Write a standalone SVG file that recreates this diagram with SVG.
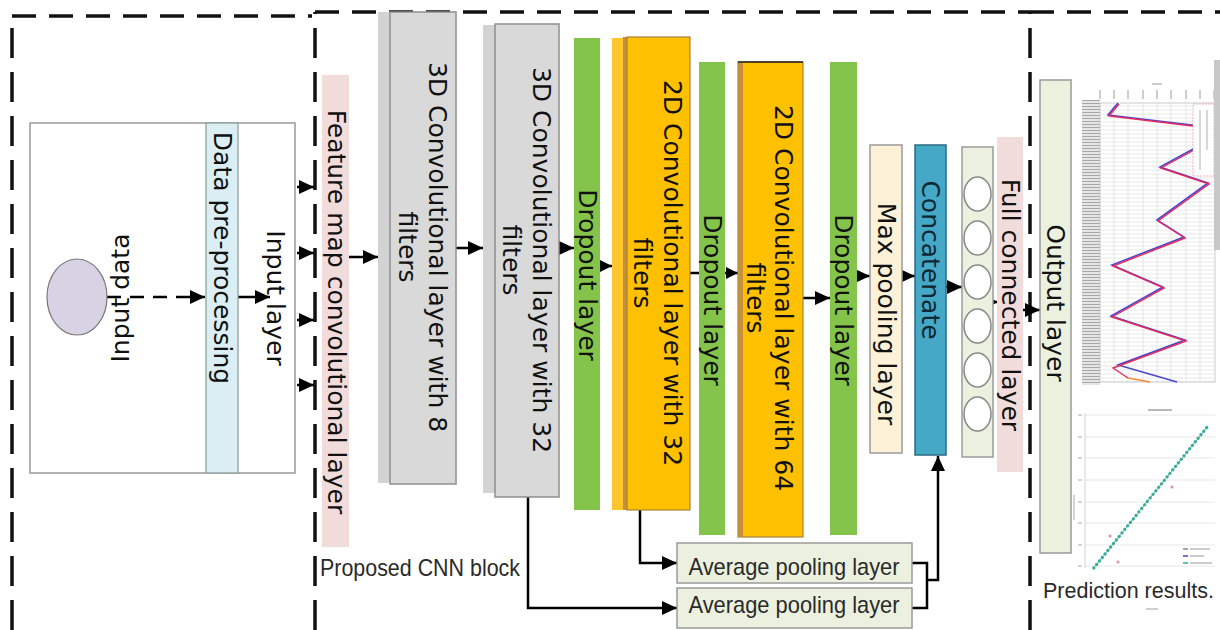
<svg xmlns="http://www.w3.org/2000/svg" width="1220" height="630" viewBox="0 0 1220 630">
<style>
.frame{fill:none;stroke:#111;stroke-width:3.5}
.fh{stroke-dasharray:24 13}
.fv{stroke-dasharray:30 14}
.con{fill:none;stroke:#000;stroke-width:2.5}
.lbl{font-family:"DejaVu Sans",sans-serif;font-size:25px;fill:#111;text-anchor:middle;dominant-baseline:central}
.cal{font-family:"Liberation Sans",sans-serif;fill:#2a2a2a}
.gray-sh{fill:#d3d3d3}
.gray{fill:#d9d9d9;stroke:#8f8f8f;stroke-width:1.5}
.drop{fill:#84c44a}
.org{fill:#ffc000;stroke:#a8803a;stroke-width:1.2}
.org-sh{fill:#fec52e}
.tan{fill:#c4913a}
.pink{fill:#f2dcdb}
.lg{fill:#ebf1de;stroke:#9a9a9a;stroke-width:1.5}
.neuron{fill:#fff;stroke:#8a8a8a;stroke-width:1.5}
.grid{stroke:#dcdcdc;stroke-width:0.7}
</style>
<defs>
<marker id="ah" markerUnits="userSpaceOnUse" markerWidth="15" markerHeight="14" refX="15" refY="7" orient="auto">
<path d="M0,0 L15,7 L0,14 z" fill="#000"/>
</marker>
<marker id="ahs" markerUnits="userSpaceOnUse" markerWidth="12" markerHeight="12" refX="12" refY="6" orient="auto">
<path d="M0,0 L12,6 L0,12 z" fill="#000"/>
</marker>
<pattern id="hlines" width="6" height="4" patternUnits="userSpaceOnUse">
<rect width="6" height="4" fill="#fff"/>
<line x1="0" y1="2" x2="6" y2="2" stroke="#e2e2e2" stroke-width="0.8"/>
</pattern>
<pattern id="ticks" width="6" height="3" patternUnits="userSpaceOnUse">
<rect width="6" height="3" fill="#e6e6e6"/>
<line x1="0" y1="1.5" x2="6" y2="1.5" stroke="#a0a0a0" stroke-width="0.9"/>
</pattern>
</defs>
<rect width="1220" height="630" fill="#fff"/>

<g id="frames">
<path class="frame fh" d="M12,16 H312"/>
<path class="frame fv" d="M12,630 V16"/>
<path class="frame fh" d="M315,12 H1030"/>
<path class="frame fv" d="M315,630 V12"/>
<path class="frame fh" d="M1030,12 H1220"/>
<path class="frame fv" d="M1030,630 V12"/>
</g>

<g id="input-box">
<rect x="30" y="123" width="265" height="350" fill="#fff" stroke="#9a9a9a" stroke-width="1.5"/>
</g>

<g id="connectors">
<path class="con" d="M107,297 H205" stroke-dasharray="14 9" marker-end="url(#ah)"/>
<path class="con" d="M238,297 H270" marker-end="url(#ah)"/>
<path class="con" d="M297,187 H314" marker-end="url(#ah)"/>
<path class="con" d="M297,253 H314" marker-end="url(#ah)"/>
<path class="con" d="M297,320 H314" marker-end="url(#ah)"/>
<path class="con" d="M297,385 H314" marker-end="url(#ah)"/>
<path class="con" d="M349,257 H378" marker-end="url(#ah)"/>
<path class="con" d="M456,248 H483" marker-end="url(#ah)"/>
<path class="con" d="M559,248 H574" marker-end="url(#ah)"/>
<path class="con" d="M600,266 H612" marker-end="url(#ahs)"/>
<path class="con" d="M690,273 H738" marker-end="url(#ahs)"/>
<path class="con" d="M803,298 H830" marker-end="url(#ah)"/>
<path class="con" d="M855,276 H870" marker-end="url(#ah)"/>
<path class="con" d="M902,276 H915" marker-end="url(#ah)"/>
<path class="con" d="M946,287 H962" marker-end="url(#ah)"/>
<path class="con" d="M993,302 H998" marker-end="url(#ahs)"/>
<path class="con" d="M1022,310 H1040" marker-end="url(#ah)"/>
<path class="con" d="M640,510 V563 H677" marker-end="url(#ah)"/>
<path class="con" d="M528,497 V608 H677" marker-end="url(#ah)"/>
<path class="con" d="M912,563 H927 V608 H912"/>
<path class="con" d="M927,580 H938 V456" marker-end="url(#ah)"/>
</g>

<g id="input-data">
<ellipse cx="77" cy="297" rx="30" ry="38" fill="#d9d2e5" stroke="#777" stroke-width="1.2"/>
<text class="lbl" transform="translate(120,298) rotate(-90)">Input data</text>
</g>

<g id="data-preprocessing">
<rect x="206" y="123" width="32" height="350" fill="#daeef3" stroke="#8a9a9a" stroke-width="1.2"/>
<text class="lbl" transform="translate(222,258) rotate(90)">Data pre-processing</text>
</g>

<g id="input-layer">
<text class="lbl" transform="translate(275,298) rotate(90)">Input layer</text>
</g>

<g id="feature-map">
<rect x="322" y="75" width="27" height="472" class="pink"/>
<text class="lbl" transform="translate(336,312) rotate(90)">Feature map convolutional layer</text>
</g>

<g id="conv3d-8">
<rect x="378" y="12" width="78" height="471" class="gray-sh"/>
<rect x="390" y="12" width="66" height="472" class="gray"/>
<g transform="translate(422,247) rotate(90)">
<text class="lbl" y="-15">3D Convolutional layer with 8</text>
<text class="lbl" y="15">filters</text>
</g>
</g>

<g id="conv3d-32">
<rect x="483" y="25" width="76" height="468" class="gray-sh"/>
<rect x="495" y="24" width="64" height="473" class="gray"/>
<g transform="translate(526,260) rotate(90)">
<text class="lbl" y="-15">3D Convolutional layer with 32</text>
<text class="lbl" y="15">filters</text>
</g>
</g>

<g id="dropout-1">
<rect x="574" y="38" width="26" height="472" class="drop"/>
<text class="lbl" transform="translate(587,275) rotate(90)">Dropout layer</text>
</g>

<g id="conv2d-32">
<rect x="612" y="38" width="78" height="472" class="org-sh"/>
<rect x="623" y="37" width="5" height="473" class="tan"/>
<rect x="627" y="37" width="63" height="473" class="org"/>
<g transform="translate(657,273) rotate(90)">
<text class="lbl" y="-15">2D Convolutional layer with 32</text>
<text class="lbl" y="15">filters</text>
</g>
</g>

<g id="dropout-2">
<rect x="699" y="62" width="26" height="473" class="drop"/>
<text class="lbl" transform="translate(712,300) rotate(90)">Dropout layer</text>
</g>

<g id="conv2d-64">
<rect x="738" y="62" width="65" height="475" class="org"/>
<rect x="738" y="63" width="5" height="474" class="tan"/>
<line x1="738" y1="62" x2="803" y2="62" stroke="#222" stroke-width="1.5"/>
<g transform="translate(769,298) rotate(90)">
<text class="lbl" y="-14">2D Convolutional layer with 64</text>
<text class="lbl" y="14">filters</text>
</g>
</g>

<g id="dropout-3">
<rect x="830" y="62" width="27" height="473" class="drop"/>
<text class="lbl" transform="translate(843,300) rotate(90)">Dropout layer</text>
</g>

<g id="max-pooling">
<rect x="870" y="145" width="32" height="308" fill="#fdf1d8" stroke="#9a9a9a" stroke-width="1.5"/>
<text class="lbl" transform="translate(886,314) rotate(90)">Max pooling layer</text>
</g>

<g id="concatenate">
<rect x="915" y="145" width="31" height="310" fill="#45a8c6" stroke="#2b6c82" stroke-width="1.5"/>
<text class="lbl" transform="translate(930,260) rotate(90)" style="fill:#0e2733">Concatenate</text>
</g>

<g id="dense-neurons">
<rect x="962" y="147" width="31" height="310" class="lg"/>
<ellipse cx="977.5" cy="194" rx="13.5" ry="17" class="neuron"/>
<ellipse cx="977.5" cy="238" rx="13.5" ry="17" class="neuron"/>
<ellipse cx="977.5" cy="282" rx="13.5" ry="17" class="neuron"/>
<ellipse cx="977.5" cy="326" rx="13.5" ry="17" class="neuron"/>
<ellipse cx="977.5" cy="370" rx="13.5" ry="17" class="neuron"/>
<ellipse cx="977.5" cy="414" rx="13.5" ry="17" class="neuron"/>
</g>

<g id="full-connected">
<rect x="997" y="137" width="26" height="335" class="pink"/>
<text class="lbl" transform="translate(1010,305) rotate(90)">Full connected layer</text>
</g>

<g id="output-layer">
<rect x="1040" y="80" width="31" height="473" class="lg"/>
<text class="lbl" transform="translate(1055,303) rotate(90)">Output layer</text>
</g>

<g id="avg-pool-1">
<rect x="677" y="543" width="235" height="40" class="lg"/>
<text class="cal" x="794" y="575" font-size="24" text-anchor="middle" textLength="211" lengthAdjust="spacingAndGlyphs">Average pooling layer</text>
</g>

<g id="avg-pool-2">
<rect x="677" y="588" width="235" height="40" class="lg"/>
<text class="cal" x="794" y="613" font-size="24" text-anchor="middle" textLength="211" lengthAdjust="spacingAndGlyphs">Average pooling layer</text>
</g>

<g id="cnn-block-label">
<text class="cal" x="320" y="576" font-size="24" textLength="200" lengthAdjust="spacingAndGlyphs">Proposed CNN block</text>
</g>

<g id="prediction-results">
<rect x="1082" y="100" width="18" height="285" fill="url(#ticks)"/>
<rect x="1100" y="103" width="115" height="279" fill="url(#hlines)" stroke="#bdbdbd" stroke-width="0.8"/>
<g class="grid">
<line x1="1114" y1="103" x2="1114" y2="382"/><line x1="1128" y1="103" x2="1128" y2="382"/>
<line x1="1143" y1="103" x2="1143" y2="382"/><line x1="1157" y1="103" x2="1157" y2="382"/>
<line x1="1171" y1="103" x2="1171" y2="382"/><line x1="1186" y1="103" x2="1186" y2="382"/>
<line x1="1200" y1="103" x2="1200" y2="382"/>
</g>
<g stroke="#9a9a9a" stroke-width="1">
<line x1="1100" y1="90" x2="1100" y2="99"/><line x1="1114" y1="90" x2="1114" y2="99"/>
<line x1="1128" y1="90" x2="1128" y2="99"/><line x1="1143" y1="90" x2="1143" y2="99"/>
<line x1="1157" y1="90" x2="1157" y2="99"/><line x1="1171" y1="90" x2="1171" y2="99"/>
<line x1="1186" y1="90" x2="1186" y2="99"/><line x1="1200" y1="90" x2="1200" y2="99"/>
<line x1="1214" y1="90" x2="1214" y2="99"/>
<line x1="1152" y1="84" x2="1162" y2="84"/>
</g>
<polyline fill="none" stroke="#4646cf" stroke-width="1.6" points="1118,103 1108,115 1200,126 1205,140 1195,148 1160,167 1208,183 1157,220 1184,237 1112,265 1163,287 1111,316 1185,340 1118,365 1177,382"/>
<polyline fill="none" stroke="#e8285c" stroke-width="1.4" points="1119,104 1109,116 1201,127 1206,141 1196,149 1161,168 1209,184 1158,221 1185,238 1113,266 1164,288 1112,317 1186,341 1113,368 1128,378"/>
<polyline fill="none" stroke="#f08a30" stroke-width="1.4" points="1128,378 1150,382"/>
<rect x="1193" y="104" width="21" height="72" fill="#fff" stroke="#e7a0c0" stroke-width="0.8" stroke-dasharray="2 1"/>
<g stroke="#b0b0b0" stroke-width="1"><line x1="1200" y1="110" x2="1200" y2="170"/><line x1="1207" y1="110" x2="1207" y2="150"/></g>
<rect x="1214" y="60" width="6" height="190" fill="#c8c8c8"/>
<rect x="1080" y="402" width="140" height="168" fill="#fff"/>
<line x1="1148" y1="410" x2="1172" y2="410" stroke="#a0a0a0" stroke-width="1.5"/>
<g class="grid">
<line x1="1085" y1="415" x2="1215" y2="415"/><line x1="1085" y1="437" x2="1215" y2="437"/>
<line x1="1085" y1="458" x2="1215" y2="458"/><line x1="1085" y1="480" x2="1215" y2="480"/>
<line x1="1085" y1="502" x2="1215" y2="502"/><line x1="1085" y1="523" x2="1215" y2="523"/>
<line x1="1085" y1="545" x2="1215" y2="545"/><line x1="1085" y1="566" x2="1215" y2="566"/>
</g>
<line x1="1085" y1="413" x2="1085" y2="568" stroke="#c8c8c8" stroke-width="0.8"/>
<g stroke="#a8a8a8" stroke-width="1">
<line x1="1078" y1="415" x2="1082" y2="415"/><line x1="1078" y1="437" x2="1082" y2="437"/>
<line x1="1078" y1="458" x2="1082" y2="458"/><line x1="1078" y1="480" x2="1082" y2="480"/>
<line x1="1078" y1="502" x2="1082" y2="502"/><line x1="1078" y1="523" x2="1082" y2="523"/>
<line x1="1078" y1="545" x2="1082" y2="545"/><line x1="1078" y1="566" x2="1082" y2="566"/>
<line x1="1074" y1="495" x2="1074" y2="520"/>
</g>
<line x1="1093" y1="569" x2="1208" y2="426" stroke="#5b8fd0" stroke-width="1"/>
<line x1="1093" y1="569" x2="1208" y2="426" stroke="#2fb08a" stroke-width="3" stroke-dasharray="2.5 2"/>
<g fill="#e58aa8"><circle cx="1110" cy="536" r="1.5"/><circle cx="1118" cy="562" r="1.5"/><circle cx="1172" cy="487" r="1.5"/></g>
<g stroke-width="1.5">
<line x1="1183" y1="549" x2="1188" y2="549" stroke="#888"/><line x1="1190" y1="549" x2="1210" y2="549" stroke="#bbb"/>
<line x1="1183" y1="556" x2="1188" y2="556" stroke="#4a4ab0"/><line x1="1190" y1="556" x2="1204" y2="556" stroke="#bbb"/>
<line x1="1183" y1="563" x2="1188" y2="563" stroke="#2fb08a"/><line x1="1190" y1="563" x2="1212" y2="563" stroke="#bbb"/>
</g>
<text class="cal" x="1043" y="598" font-size="21.5">Prediction results.</text>
<line x1="1146" y1="609" x2="1158" y2="609" stroke="#b0b0b0" stroke-width="1.2"/>
</g>
</svg>
